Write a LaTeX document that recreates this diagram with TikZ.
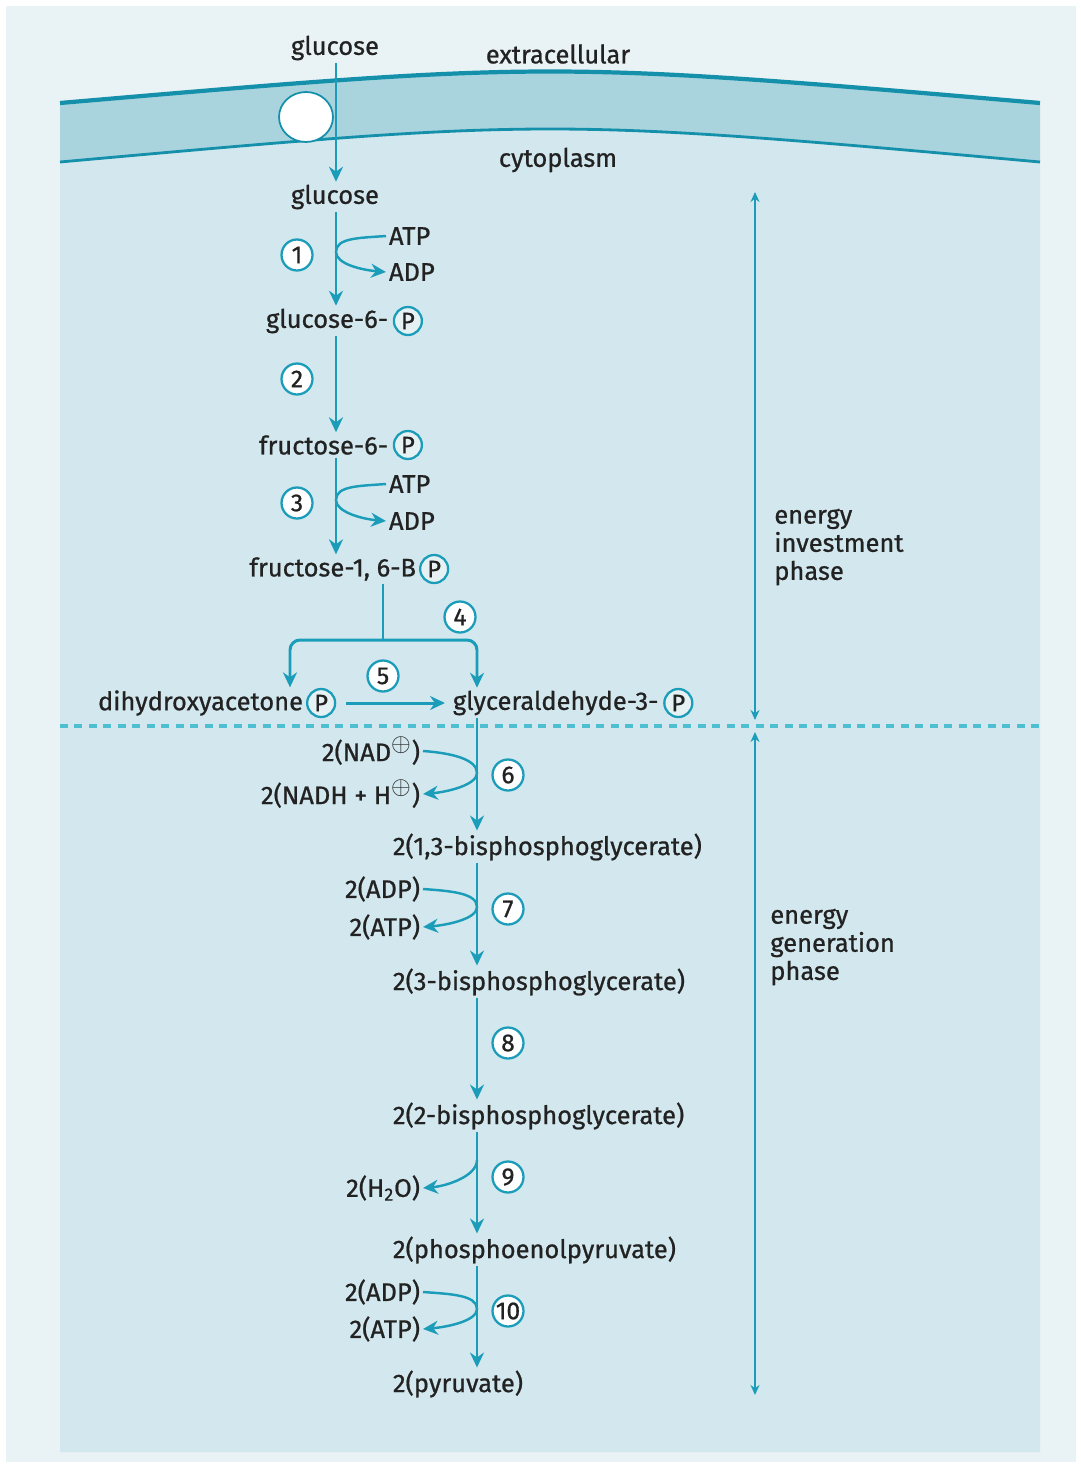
\documentclass[tikz,border=0pt]{standalone}
\usepackage{fontspec}
\setmainfont{Fira Sans}[FakeBold=0.8]
\usetikzlibrary{positioning,arrows.meta}

\definecolor{pathteal}{HTML}{1B9DBA}
\definecolor{membedge}{HTML}{1590AA}
\definecolor{membfill}{HTML}{A9D4DE}
\definecolor{cellfill}{HTML}{D3E8EE}
\definecolor{outerfill}{HTML}{E9F2F5}
\definecolor{divteal}{HTML}{4DBFD0}
\definecolor{inktext}{HTML}{222222}
\definecolor{phosfill}{HTML}{E6F1F4}

\newcommand{\chg}{\textsuperscript{\fontsize{15}{15}\selectfont$\oplus$}}

\begin{document}
\begin{tikzpicture}[
  x=0.02cm, y=-0.02cm,
  >={Stealth[length=3mm,width=2.8mm]},
  font=\fontsize{14.5}{16}\selectfont,
  every node/.style={text=inktext},
  metab/.style={inner sep=1.5pt},
  flow/.style={draw=pathteal, line width=1.7pt},
  side/.style={draw=pathteal, line width=1.4pt},
  stepnum/.style={circle, draw=pathteal, fill=white, line width=1.3pt,
    inner sep=0pt, minimum size=0.62cm, font=\fontsize{14}{14}\selectfont},
  phos/.style={circle, draw=pathteal, fill=phosfill, line width=1.3pt,
    inner sep=0pt, minimum size=0.56cm, font=\fontsize{13.5}{13.5}\selectfont},
  phase/.style={draw=pathteal, line width=1.1pt,
    {Stealth[length=2mm,width=1.8mm]}-{Stealth[length=2mm,width=1.8mm]}}
]
  % background, cell and membrane
  \useasboundingbox (0,0) rectangle (1080,1467);
  \fill[white] (0,0) rectangle (1080,1467);
  \fill[outerfill] (6,6) rectangle (1076,1462);
  \fill[cellfill] (60,162) .. controls (550,118) .. (1040,162)
    -- (1040,1452) -- (60,1452) -- cycle;
  \fill[membfill] (60,103) .. controls (550,61) .. (1040,103)
    -- (1040,162) .. controls (550,118) .. (60,162) -- cycle;
  \draw[membedge, line width=2.4pt] (60,103) .. controls (550,61) .. (1040,103);
  \draw[membedge, line width=1.6pt] (60,162) .. controls (550,118) .. (1040,162);
  \draw[membedge, fill=white, line width=1pt] (306,117) ellipse [x radius=0.54cm, y radius=0.5cm];

  \coordinate (ux) at (336,0);
  \coordinate (lx) at (477,0);

  \node[metab] (glcout) at (335,48) {glucose};
  \node (extra) at (558,54) {extracellular};
  \node (cyto) at (558,160) {cytoplasm};

  % energy investment phase
  \node[metab] (glc) at (335,197) {glucose};
  \node[metab, anchor=west] (atp1) at (386,236) {ATP};
  \node[metab, anchor=west] (adp1) at (386,272) {ADP};
  \node[stepnum] (n1) at (297,255) {1};
  \node[metab, anchor=east] (g6p) at (391,321) {glucose-6-};
  \node[phos, right=1pt of g6p] (g6pP) {P};
  \node[stepnum] (n2) at (297,379) {2};
  \node[metab, anchor=east] (f6p) at (391,445) {fructose-6-};
  \node[phos, right=1pt of f6p] (f6pP) {P};
  \node[metab, anchor=west] (atp3) at (386,484) {ATP};
  \node[metab, anchor=west] (adp3) at (386,521) {ADP};
  \node[stepnum] (n3) at (297,503) {3};
  \node[metab, anchor=east] (f16bp) at (419,569) {fructose-1, 6-B};
  \node[phos, right=0pt of f16bp] (f16bpP) {P};
  \node[stepnum] (n4) at (460,617) {4};
  \node[stepnum] (n5) at (383,676) {5};
  \node[metab, anchor=east] (dhap) at (306,703) {dihydroxyacetone};
  \node[phos, right=0pt of dhap] (dhapP) {P};
  \node[metab, anchor=west] (gap) at (450,703) {glyceraldehyde-3-};
  \node[phos, right=1pt of gap] (gapP) {P};

  % energy generation phase
  \node[metab, anchor=east] (nad) at (423,751) {2(NAD\chg)};
  \node[metab, anchor=east] (nadh) at (423,794) {2(NADH + H\chg)};
  \node[stepnum] (n6) at (508,775) {6};
  \node[metab, anchor=west] (bpg) at (390,847) {2(1,3-bisphosphoglycerate)};
  \node[metab, anchor=east] (adp7) at (423,889) {2(ADP)};
  \node[metab, anchor=east] (atp7) at (423,927) {2(ATP)};
  \node[stepnum] (n7) at (508,909) {7};
  \node[metab, anchor=west] (pg3) at (390,982) {2(3-bisphosphoglycerate)};
  \node[stepnum] (n8) at (508,1043) {8};
  \node[metab, anchor=west] (pg2) at (390,1116) {2(2-bisphosphoglycerate)};
  \node[metab, anchor=east] (h2o) at (423,1188) {2(H\textsubscript{2}O)};
  \node[stepnum] (n9) at (508,1177) {9};
  \node[metab, anchor=west] (pep) at (390,1250) {2(phosphoenolpyruvate)};
  \node[metab, anchor=east] (adp10) at (423,1292) {2(ADP)};
  \node[metab, anchor=east] (atp10) at (423,1329) {2(ATP)};
  \node[stepnum] (n10) at (508,1311) {10};
  \node[metab, anchor=west] (pyr) at (390,1384) {2(pyruvate)};

  \node[anchor=west, align=left, inner sep=0pt] (invlab) at (774,547) {energy\\investment\\phase};
  \node[anchor=west, align=left, inner sep=0pt] (genlab) at (770,947) {energy\\generation\\phase};

  % main chain
  \draw[flow,->] (glcout.south -| ux) -- (glc.north -| ux);
  \draw[flow,->] (glc.south -| ux) -- (g6p.north -| ux);
  \draw[flow,->] (g6p.south -| ux) -- (f6p.north -| ux);
  \draw[flow,->] (f6p.south -| ux) -- (f16bp.north -| ux);

  \coordinate (m1) at (336,252);
  \coordinate (m3) at (336,500);
  \draw[side,->] (atp1.west) .. controls +(-28,2) and +(0,-14) .. (m1)
    .. controls +(0,12) and +(-24,-2) .. (adp1.west);
  \draw[side,->] (atp3.west) .. controls +(-28,2) and +(0,-14) .. (m3)
    .. controls +(0,12) and +(-24,-2) .. (adp3.west);

  \coordinate (fork) at (383,640);
  \coordinate (dhapin) at (290,0);
  \draw[flow] (f16bp.south -| fork) -- (fork);
  \draw[flow,<->,rounded corners=0.2cm] (dhapin |- dhap.north) |- (fork) -| (lx |- gap.north);
  \draw[flow,->,shorten <=0.2cm,shorten >=0.1cm] (dhapP.east) -- (gap.west);

  \draw[flow,->] (gap.south -| lx) -- (bpg.north -| lx);
  \draw[flow,->] (bpg.south -| lx) -- (pg3.north -| lx);
  \draw[flow,->] (pg3.south -| lx) -- (pg2.north -| lx);
  \draw[flow,->] (pg2.south -| lx) -- (pep.north -| lx);
  \draw[flow,->] (pep.south -| lx) -- (pyr.north -| lx);

  \coordinate (m6) at (477,773);
  \coordinate (m7) at (477,907);
  \coordinate (m9) at (477,1160);
  \coordinate (m10) at (477,1309);
  \draw[side,->] (nad.east) .. controls +(28,2) and +(0,-14) .. (m6)
    .. controls +(0,12) and +(24,-2) .. (nadh.east);
  \draw[side,->] (adp7.east) .. controls +(28,2) and +(0,-14) .. (m7)
    .. controls +(0,12) and +(24,-2) .. (atp7.east);
  \draw[side,->] (m9) .. controls +(0,16) and +(24,-2) .. (h2o.east);
  \draw[side,->] (adp10.east) .. controls +(28,2) and +(0,-14) .. (m10)
    .. controls +(0,12) and +(24,-2) .. (atp10.east);

  % phase markers
  \coordinate (divl) at (60,726);
  \coordinate (divr) at (1040,726);
  \draw[divteal, line width=2.2pt, dash pattern=on 0.16cm off 0.13cm] (divl) -- (divr);
  \coordinate (invtop) at (755,192);
  \coordinate (invbot) at (755,720);
  \coordinate (gentop) at (755,732);
  \coordinate (genbot) at (755,1395);
  \draw[phase] (invtop) -- (invbot);
  \draw[phase] (gentop) -- (genbot);
\end{tikzpicture}
\end{document}
